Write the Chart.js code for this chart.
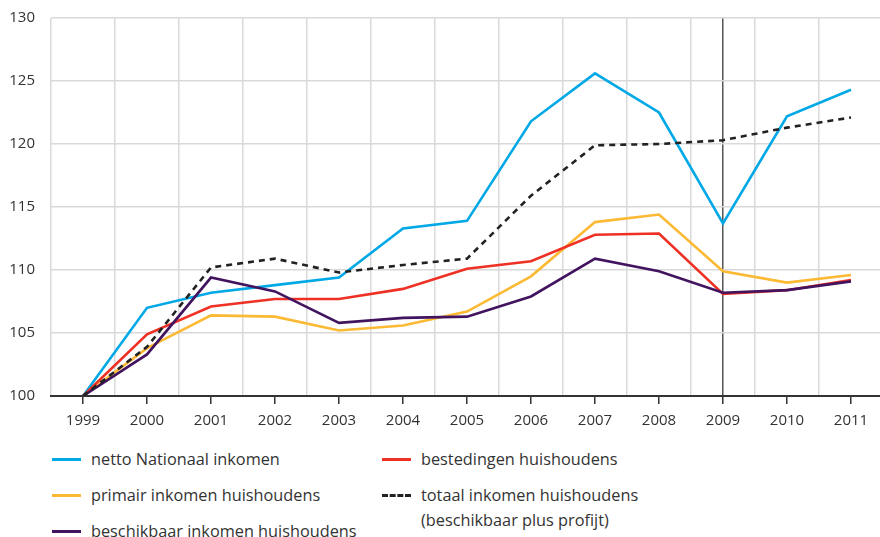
<!DOCTYPE html>
<html>
<head>
<meta charset="utf-8">
<script src="https://cdn.jsdelivr.net/npm/chart.js@4/dist/chart.umd.min.js"></script>
<style>
    html, body { margin: 0; padding: 0; background: #fff; overflow: hidden; width: 880px; height: 537px; }
    #wrap { position: absolute; left: 0; top: 0; width: 884px; height: 437px; }
    .lg { position: absolute; font-family: "Open Sans", sans-serif; font-size: 16.3px; color: #333; line-height: 25px; }
    .lg .sw { position: absolute; left: 0; top: 11px; width: 29px; height: 0; border-top: 3px solid; }
    .lg .tx { position: absolute; left: 39px; top: 0; white-space: nowrap; }
</style>
</head>
<body>
<div id="wrap"><canvas id="chart"></canvas></div>
<div id="legend"></div>
<script>
const years = ['1999', '2000', '2001', '2002', '2003', '2004', '2005', '2006', '2007', '2008', '2009', '2010', '2011'];
const nettoNationaal = [100, 107.0, 108.2, 108.8, 109.4, 113.3, 113.9, 121.8, 125.6, 122.5, 113.7, 122.2, 124.3];
const bestedingen = [100, 104.9, 107.1, 107.7, 107.7, 108.5, 110.1, 110.7, 112.8, 112.9, 108.1, 108.4, 109.2];
const primair = [100, 103.8, 106.4, 106.3, 105.2, 105.6, 106.7, 109.5, 113.8, 114.4, 109.9, 109.0, 109.6];
const totaal = [100, 103.9, 110.2, 110.9, 109.8, 110.4, 110.9, 115.9, 119.9, 120.0, 120.3, 121.3, 122.1];
const beschikbaar = [100, 103.3, 109.4, 108.3, 105.8, 106.2, 106.3, 107.9, 110.9, 109.9, 108.2, 108.4, 109.1];
const markerYear = '2009';

const fontFamily = '"Open Sans", sans-serif';

const datasets = [
    { label: 'netto Nationaal inkomen', data: nettoNationaal, borderColor: '#00a8e6', order: 5 },
    { label: 'bestedingen huishoudens', data: bestedingen, borderColor: '#ee3124', order: 3 },
    { label: 'primair inkomen huishoudens', data: primair, borderColor: '#fbb934', order: 4 },
    { label: 'totaal inkomen huishoudens\n(beschikbaar plus profijt)', data: totaal, borderColor: '#222222', borderDash: [6, 5], order: 1 },
    { label: 'beschikbaar inkomen huishoudens', data: beschikbaar, borderColor: '#42145f', order: 2 }
].map(d => Object.assign({
    borderWidth: 2.6,
    pointRadius: 0,
    tension: 0,
    fill: false
}, d));

const ctx = document.getElementById('chart').getContext('2d');
const chart = new Chart(ctx, {
    type: 'line',
    data: { labels: years, datasets: datasets },
    options: {
        responsive: true,
        maintainAspectRatio: false,
        animation: false,
        layout: { padding: { top: 18, right: 1, left: 0, bottom: 0 } },
        plugins: { legend: { display: false }, tooltip: { enabled: false } },
        scales: {
            x: {
                offset: true,
                grid: {
                    offset: false,
                    drawOnChartArea: true,
                    color: c => (c.tick && years[c.index] === markerYear) ? '#555555' : 'rgba(0,0,0,0)',
                    lineWidth: 1.5,
                    tickColor: '#333333',
                    tickLength: 8,
                    tickWidth: 1.5
                },
                border: { display: true, color: '#333333', width: 2 },
                ticks: {
                    color: '#333333',
                    font: { family: fontFamily, size: 15 },
                    padding: 8,
                    maxRotation: 0,
                    autoSkip: false
                },
                afterFit: s => { s.height = 41; s.paddingLeft = 0; s.paddingRight = 0; }
            },
            x2: {
                type: 'category',
                labels: years,
                position: 'bottom',
                offset: true,
                grid: {
                    offset: true,
                    color: '#d9d9d9',
                    lineWidth: 1.5,
                    drawTicks: false
                },
                border: { display: false },
                ticks: { display: false },
                afterFit: s => { s.height = 0; }
            },
            y: {
                min: 100,
                max: 130,
                ticks: {
                    stepSize: 5,
                    color: '#333333',
                    font: { family: fontFamily, size: 15 },
                    padding: 16
                },
                grid: { color: '#d9d9d9', lineWidth: 1.5, drawTicks: false },
                border: { display: false },
                afterFit: s => { s.width = 51; s.paddingTop = 0; s.paddingBottom = 0; }
            }
        }
    }
});

// legend built from the datasets, laid out in two columns like the source
const legendPos = [
    { left: 52, top: 447 },
    { left: 382, top: 447 },
    { left: 52, top: 483 },
    { left: 382, top: 483 },
    { left: 52, top: 519 }
];
const legendEl = document.getElementById('legend');
datasets.forEach((d, i) => {
    const item = document.createElement('div');
    item.className = 'lg';
    item.style.left = legendPos[i].left + 'px';
    item.style.top = legendPos[i].top + 'px';
    const sw = document.createElement('span');
    sw.className = 'sw';
    sw.style.borderTopColor = d.borderColor;
    if (d.borderDash) sw.style.borderTopStyle = 'dashed';
    const tx = document.createElement('span');
    tx.className = 'tx';
    tx.innerHTML = d.label.replace('\n', '<br>');
    item.appendChild(sw);
    item.appendChild(tx);
    legendEl.appendChild(item);
});
</script>
</body>
</html>
